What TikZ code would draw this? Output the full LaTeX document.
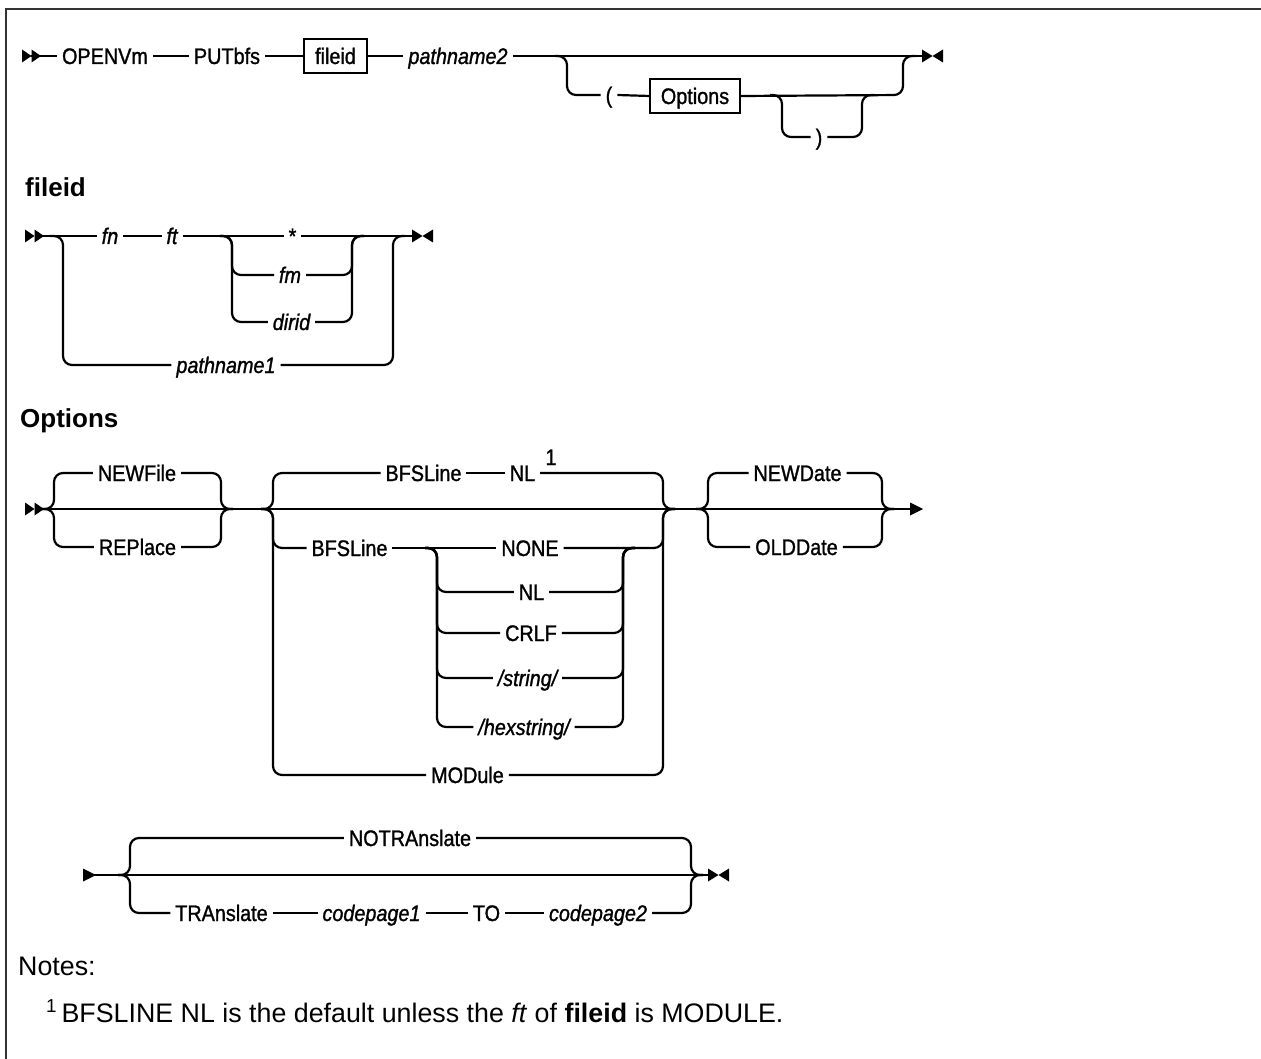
\documentclass[tikz,border=0pt]{standalone}
\usepackage{fontspec}
\setmainfont{Liberation Sans}
\newfontfamily\railfont{Liberation Sans}[FakeStretch=0.88, FakeBold=1.2]
\usetikzlibrary{positioning}

\newcommand{\lblsize}{\railfont\fontsize{22.5}{26}\selectfont}

\tikzset{
    pics/dblstart/.style={code={
        \fill (0,-6.5) -- (9.5,0) -- (0,6.5) -- cycle;
        \fill (9.5,-6.5) -- (19,0) -- (9.5,6.5) -- cycle;
    }},
    pics/bowtie/.style={code={
        \fill (0,-6.5) -- (10.5,0) -- (0,6.5) -- cycle;
        \fill (21,-6.5) -- (10.5,0) -- (21,6.5) -- cycle;
    }},
    pics/contin/.style={code={
        \fill (0,-6.5) -- (13,0) -- (0,6.5) -- cycle;
    }},
}

\begin{document}
\begin{tikzpicture}[
        x=1pt, y=-1pt,
        track/.style={line width=2.2pt, rounded corners=9pt},
        kw/.style={font=\lblsize, inner xsep=5pt, inner ysep=0pt, text height=16pt, text depth=0pt, outer sep=0pt},
        var/.style={kw, font=\lblsize\itshape},
        refbox/.style={kw, draw, line width=2.2pt, inner xsep=11pt, inner ysep=9pt},
        heading/.style={font=\fontsize{26}{30}\selectfont\bfseries, anchor=base west, inner sep=0pt},
        note/.style={font=\fontsize{26.8}{30}\selectfont, anchor=base west, inner sep=0pt},
    ]
        \useasboundingbox (0,0) rectangle (1261,1059);

        % Frame
        \draw[line width=2.5pt, black!80] (6,1059) -- (6,9) -- (1261,9);

        % Command line
        \pic at (22,56) {dblstart};
        \node[kw] (openvm) at (105,56) {OPENVm};
        \node[kw] (putbfs) at (227,56) {PUTbfs};
        \node[refbox] (fidref) at (335.5,56) {fileid};
        \node[var] (pathtwo) at (458,56) {pathname2};
        \node[kw] (lparen) at (609,95) {(};
        \node[refbox] (optref) at (695,96) {Options};
        \node[kw] (rparen) at (819,137) {)};
        \coordinate (endone) at (922,56);
        \pic at (endone) {bowtie};

        \draw[track] (31,56) -- (openvm.west);
        \foreach \a/\b in {openvm/putbfs, putbfs/fidref, fidref/pathtwo, lparen/optref}
            \draw[track] (\a.east) -- (\b.west);
        \draw[track] (pathtwo.east) -- (endone);
        \draw[track] (555,56) -- (567,56) -- (567,95) -- (lparen.west);
        \draw[track] (optref.east) -- (903,95) -- (903,56) -- (915,56);
        \draw[track] (770,95) -- (782,95) -- (782,137) -- (rparen.west);
        \draw[track] (rparen.east) -- (862,137) -- (862,95) -- (874,95);

        % fileid
        \node[heading] (fidhead) at (25,197) {fileid};
        \pic at (25,236) {dblstart};
        \node[var] (fn) at (110,236) {fn};
        \node[var] (ft) at (172,236) {ft};
        \node[kw] (star) at (292.5,236) {*};
        \node[var] (fm) at (290,275) {fm};
        \node[var] (dirid) at (291.5,322) {dirid};
        \node[var] (pathone) at (226,365) {pathname1};
        \coordinate (endtwo) at (412,236);
        \pic at (endtwo) {bowtie};

        \draw[track] (35,236) -- (fn.west);
        \foreach \a/\b in {fn/ft, ft/star}
            \draw[track] (\a.east) -- (\b.west);
        \draw[track] (star.east) -- (endtwo);
        \foreach \n/\y in {fm/275, dirid/322} {
            \draw[track] (220,236) -- (232,236) -- (232,\y) -- (\n.west);
            \draw[track] (\n.east) -- (352,\y) -- (352,236) -- (364,236);
        }
        \draw[track] (50,236) -- (63,236) -- (63,365) -- (pathone.west);
        \draw[track] (pathone.east) -- (393,365) -- (393,236) -- (405,236);

        % Options
        \node[heading] (opthead) at (20,427) {Options};
        \pic at (25,509) {dblstart};
        \coordinate (contone) at (910,509);
        \pic at (contone) {contin};
        \draw[track] (35,509) -- (contone);

        \node[kw] (newfile) at (137,473) {NEWFile};
        \node[kw] (replace) at (137.5,547) {REPlace};
        \foreach \n/\y in {newfile/473, replace/547} {
            \draw[track] (42,509) -- (54,509) -- (54,\y) -- (\n.west);
            \draw[track] (\n.east) -- (221,\y) -- (221,509) -- (233,509);
        }

        \node[kw] (bfsdef) at (423.5,473) {BFSLine};
        \node[kw] (nldef) at (522.5,473) {NL};
        \node[kw] (fnmark) at (551,457) {1};
        \node[kw] (bfsline) at (349.5,548) {BFSLine};
        \node[kw] (none) at (530,548) {NONE};
        \node[kw] (nl) at (531.5,592) {NL};
        \node[kw] (crlf) at (531,633) {CRLF};
        \node[var] (string) at (527.5,678) {/string/};
        \node[var] (hexstring) at (524,727) {/hexstring/};
        \node[kw] (module) at (467.5,775) {MODule};

        \draw[track] (bfsdef.east) -- (nldef.west);
        \draw[track] (bfsline.east) -- (none.west);
        \foreach \n/\y in {bfsdef/473, bfsline/548, module/775}
            \draw[track] (261,509) -- (273,509) -- (273,\y) -- (\n.west);
        \foreach \n/\y in {nldef/473, none/548, module/775}
            \draw[track] (\n.east) -- (663,\y) -- (663,509) -- (675,509);
        \foreach \n/\y in {nl/592, crlf/633, string/678, hexstring/727} {
            \draw[track] (425,548) -- (437,548) -- (437,\y) -- (\n.west);
            \draw[track] (\n.east) -- (623,\y) -- (623,548) -- (635,548);
        }

        \node[kw] (newdate) at (797.5,473) {NEWDate};
        \node[kw] (olddate) at (796.5,547) {OLDDate};
        \foreach \n/\y in {newdate/473, olddate/547} {
            \draw[track] (696,509) -- (708,509) -- (708,\y) -- (\n.west);
            \draw[track] (\n.east) -- (882,\y) -- (882,509) -- (894,509);
        }

        % Options, second line
        \pic at (83,875) {contin};
        \coordinate (endthree) at (708,875);
        \pic at (endthree) {bowtie};
        \draw[track] (90,875) -- (endthree);
        \node[kw] (notrans) at (410,838) {NOTRAnslate};
        \node[kw] (trans) at (221.5,913) {TRAnslate};
        \node[var] (cpone) at (371.5,913) {codepage1};
        \node[kw] (tokw) at (486.5,913) {TO};
        \node[var] (cptwo) at (598,913) {codepage2};
        \foreach \a/\b in {trans/cpone, cpone/tokw, tokw/cptwo}
            \draw[track] (\a.east) -- (\b.west);
        \foreach \n/\y in {notrans/838, trans/913}
            \draw[track] (118,875) -- (130,875) -- (130,\y) -- (\n.west);
        \foreach \n/\y in {notrans/838, cptwo/913}
            \draw[track] (\n.east) -- (691,\y) -- (691,875) -- (703,875);

        % Notes
        \node[note] (notes) at (18,975) {Notes:};
        \node[note] (fnote) at (46,1022) {\textsuperscript{1}\,BFSLINE NL is the default unless the \textit{ft} of \textbf{fileid} is MODULE.};
    \end{tikzpicture}
\end{document}
